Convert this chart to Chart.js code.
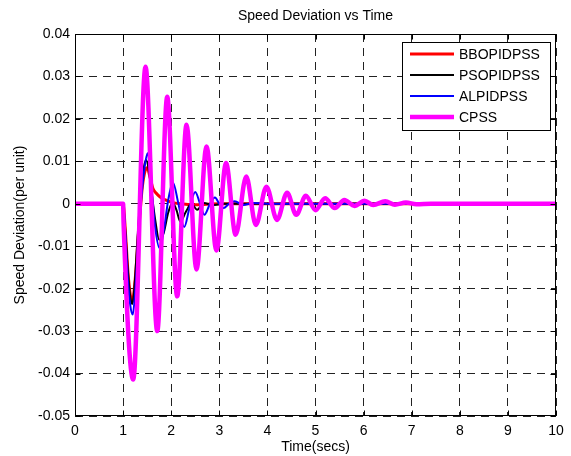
<!DOCTYPE html>
<html>
<head>
<meta charset="utf-8">
<script src="https://cdn.jsdelivr.net/npm/chart.js@4.4.0/dist/chart.umd.min.js"></script>
<style>
  html, body { margin: 0; padding: 0; background: #fff; }
  #wrap { width: 571px; height: 456px; }
</style>
</head>
<body>
<div id="wrap"><canvas id="chart1" width="571" height="456"></canvas></div>
<script>
// values (time in secs, speed deviation in per unit)
const seriesNames = ["BBOPIDPSS", "PSOPIDPSS", "ALPIDPSS", "CPSS"];
const seriesColors = ["#ff0000", "#000000", "#0000ff", "#ff00ff"];

const bboTime = [0, 1.0, 1.05, 1.1, 1.15, 1.19, 1.25, 1.32, 1.4, 1.46, 1.5, 1.56, 1.62, 1.68, 1.77, 1.88, 2.0, 2.2, 2.5, 3.0, 4.0, 10];
const bboValue = [0, 0, -0.007, -0.016, -0.0215, -0.0232, -0.018, -0.007, 0.004, 0.0079, 0.0085, 0.0062, 0.0036, 0.0026, 0.0016, 0.0009, 0.0004, 0.0, -0.0002, 0, 0, 0];

const psoTime = [0, 1.0, 1.05, 1.1, 1.15, 1.19, 1.24, 1.3, 1.37, 1.43, 1.48, 1.54, 1.6, 1.67, 1.75, 1.84, 1.94, 2.03, 2.11, 2.19, 2.3, 2.42, 2.54, 2.68, 2.85, 3.1, 4.0, 10];
const psoValue = [0, 0, -0.007, -0.016, -0.022, -0.0236, -0.019, -0.008, 0.003, 0.0085, 0.0103, 0.0075, 0.002, -0.004, -0.0085, -0.007, -0.002, 0.0003, -0.0015, -0.0042, -0.002, 0.0, -0.0014, 0.0002, -0.0003, 0, 0, 0];

const alTime = [0, 1.0, 1.05, 1.1, 1.15, 1.2, 1.25, 1.31, 1.37, 1.44, 1.51, 1.58, 1.66, 1.76, 1.85, 1.94, 2.04, 2.15, 2.27, 2.38, 2.5, 2.6, 2.69, 2.8, 2.91, 3.0, 3.09, 3.2, 3.32, 3.5, 3.7, 4.0, 10];
const alValue = [0, 0, -0.008, -0.018, -0.024, -0.0261, -0.021, -0.01, 0.0, 0.008, 0.0119, 0.005, -0.005, -0.0105, -0.006, 0.001, 0.0049, 0.0, -0.0055, -0.001, 0.0028, 0.0, -0.0026, -0.0002, 0.0015, 0.0, -0.001, 0.0, 0.0006, -0.0003, 0.0002, 0, 0];

const cpssTime = [0, 1.0, 1.01, 1.21, 1.466, 1.71, 1.917, 2.125, 2.318, 2.526, 2.734, 2.94, 3.14, 3.34, 3.56, 3.76, 3.98, 4.2, 4.41, 4.6, 4.8, 5.0, 5.2, 5.4, 5.6, 5.81, 6.02, 6.2, 6.45, 6.65, 6.88, 7.1, 7.4, 10];
const cpssValue = [0, 0, -0.0045, -0.0414, 0.0323, -0.0300, 0.0252, -0.0218, 0.0186, -0.0155, 0.0135, -0.0110, 0.0096, -0.0073, 0.0064, -0.0050, 0.0040, -0.0038, 0.0026, -0.0026, 0.0019, -0.0015, 0.0013, -0.0010, 0.0009, -0.0005, 0.0007, -0.0003, 0.0006, -0.0002, 0.0003, -0.0001, 0, 0];

const xTicks = [0, 1, 2, 3, 4, 5, 6, 7, 8, 9, 10];
const yTicks = [-0.05, -0.04, -0.03, -0.02, -0.01, 0, 0.01, 0.02, 0.03, 0.04];

const FONT = '"Liberation Sans", Arial, sans-serif';

function toPoints(ts, vs) {
    return ts.map((t, i) => ({ x: t, y: vs[i] }));
}

// MATLAB style: solid box with inner tick marks
const axesBox = {
    id: 'axesBox',
    afterDraw: (chart) => {
        const { ctx, chartArea: a, scales } = chart;
        const L = Math.round(a.left) + 0.5, R = Math.round(a.right) - 0.5;
        const T = Math.round(a.top) + 0.5, B = Math.round(a.bottom) - 0.5;
        ctx.save();
        ctx.strokeStyle = '#000';
        ctx.lineWidth = 1;
        ctx.setLineDash([]);
        ctx.strokeRect(L, T, R - L, B - T);
        ctx.beginPath();
        xTicks.forEach(v => {
            const px = Math.round(scales.x.getPixelForValue(v)) + 0.5;
            ctx.moveTo(px, B); ctx.lineTo(px, B - 5);
            ctx.moveTo(px, T); ctx.lineTo(px, T + 5);
        });
        yTicks.forEach(v => {
            const py = Math.round(scales.y.getPixelForValue(v)) + 0.5;
            ctx.moveTo(L, py); ctx.lineTo(L + 5, py);
            ctx.moveTo(R, py); ctx.lineTo(R - 5, py);
        });
        ctx.stroke();
        ctx.restore();
    }
};

// legend box in the upper right corner of the axes
const boxLegend = {
    id: 'boxLegend',
    afterDraw: (chart) => {
        const { ctx, data } = chart;
        ctx.save();
        ctx.fillStyle = '#fff';
        ctx.fillRect(402, 42, 148, 88);
        ctx.strokeStyle = '#000';
        ctx.lineWidth = 1;
        ctx.strokeRect(402.5, 42.5, 148, 88);
        ctx.font = `14px ${FONT}`;
        ctx.textAlign = 'left';
        ctx.textBaseline = 'middle';
        data.datasets.forEach((ds, i) => {
            const y = 54 + i * 21;
            ctx.strokeStyle = ds.borderColor;
            ctx.lineWidth = ds.borderWidth;
            ctx.beginPath();
            ctx.moveTo(410, y);
            ctx.lineTo(454, y);
            ctx.stroke();
            ctx.fillStyle = '#000';
            ctx.fillText(ds.label, 459, y + 1);
        });
        ctx.restore();
    }
};

const widths = [3, 2, 2, 4.5];
const times = [bboTime, psoTime, alTime, cpssTime];
const values = [bboValue, psoValue, alValue, cpssValue];

new Chart(document.getElementById('chart1').getContext('2d'), {
    type: 'line',
    data: {
        datasets: seriesNames.map((name, i) => ({
            label: name,
            data: toPoints(times[i], values[i]),
            borderColor: seriesColors[i],
            backgroundColor: seriesColors[i],
            borderWidth: widths[i],
            pointRadius: 0,
            fill: false,
            cubicInterpolationMode: 'monotone',
            order: 3 - i,
        })),
    },
    options: {
        responsive: false,
        animation: false,
        layout: { padding: { left: 0, right: 15, top: 0, bottom: 0 } },
        plugins: {
            legend: { display: false },
            tooltip: { enabled: false },
            title: {
                display: true,
                text: 'Speed Deviation vs Time',
                fullSize: false,
                color: '#000',
                font: { family: FONT, size: 14, weight: 'normal', lineHeight: 1.2 },
                padding: { top: 8, bottom: 9.2 },
            },
        },
        scales: {
            x: {
                type: 'linear',
                min: 0,
                max: 10,
                afterBuildTicks: (s) => { s.ticks = xTicks.map(v => ({ value: v })); },
                afterFit: (s) => { s.height = 40; },
                grid: { color: '#222', lineWidth: 1, drawTicks: false },
                border: { display: false, dash: [8, 6] },
                ticks: {
                    color: '#000',
                    padding: 7,
                    maxRotation: 0,
                    font: { family: FONT, size: 14 },
                    callback: (v) => String(v),
                },
                title: {
                    display: true,
                    text: 'Time(secs)',
                    color: '#000',
                    font: { family: FONT, size: 14, lineHeight: 1.2 },
                    padding: { top: 0, bottom: 0 },
                },
            },
            y: {
                type: 'linear',
                min: -0.05,
                max: 0.04,
                afterBuildTicks: (s) => { s.ticks = yTicks.map(v => ({ value: v })); },
                afterFit: (s) => { s.width = 75; },
                grid: { color: '#222', lineWidth: 1, drawTicks: false },
                border: { display: false, dash: [8, 6] },
                ticks: {
                    color: '#000',
                    padding: 5,
                    font: { family: FONT, size: 14 },
                    callback: (v) => Math.abs(v) < 1e-9 ? '0' : v.toFixed(2),
                },
                title: {
                    display: true,
                    text: 'Speed Deviation(per unit)',
                    color: '#000',
                    font: { family: FONT, size: 14, lineHeight: 1.2 },
                    padding: { top: 12, bottom: 0 },
                },
            },
        },
    },
    plugins: [axesBox, boxLegend],
});
</script>
</body>
</html>
